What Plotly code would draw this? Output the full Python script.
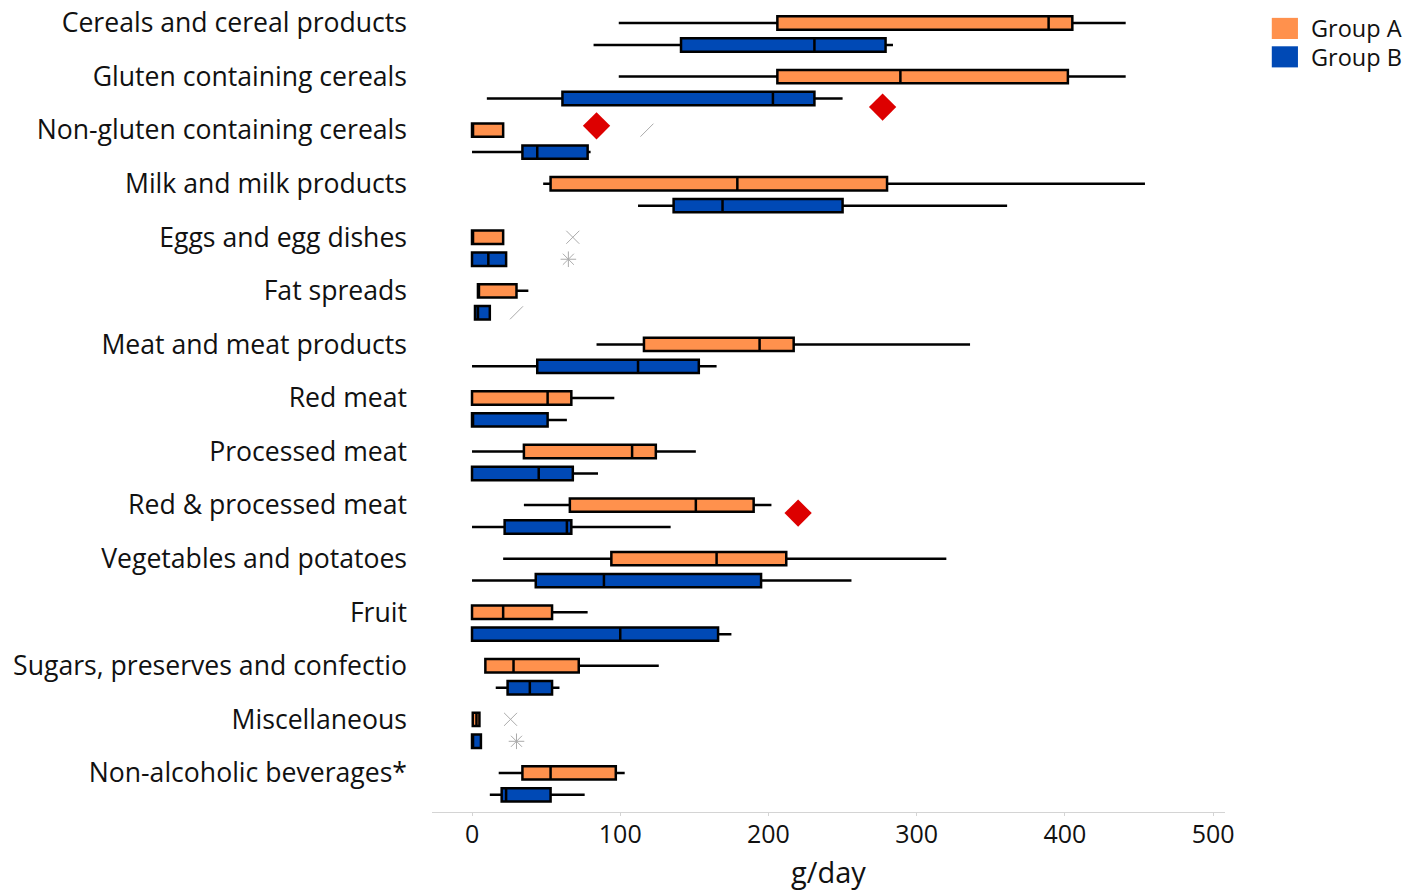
import plotly.graph_objects as go

# Food groups, listed top to bottom
categories = [
    "Cereals and cereal products",
    "Gluten containing cereals",
    "Non-gluten containing cereals",
    "Milk and milk products",
    "Eggs and egg dishes",
    "Fat spreads",
    "Meat and meat products",
    "Red meat",
    "Processed meat",
    "Red & processed meat",
    "Vegetables and potatoes",
    "Fruit",
    "Sugars, preserves and confectio",
    "Miscellaneous",
    "Non-alcoholic beverages*",
]

# Group A intake summaries (g/day)
a_low = [99, 99, 0, 48, 0, 4, 84, 0, 0, 35, 21, 0, 9, 0.5, 18]
a_q1 = [206, 206, 0, 53, 0, 4, 116, 0, 35, 66, 94, 0, 9, 0.5, 34]
a_med = [389, 289, 0, 179, 0, 4, 194, 51, 108, 151, 165, 21, 28, 3, 53]
a_q3 = [405, 402, 21, 280, 21, 30, 217, 67, 124, 190, 212, 54, 72, 5, 97]
a_high = [441, 441, 21, 454, 21, 38, 336, 96, 151, 202, 320, 78, 126, 5, 103]

# Group B intake summaries (g/day)
b_low = [82, 10, 0, 112, 0, 2, 0, 0, 0, 0, 0, 0, 16, 0, 12]
b_q1 = [141, 61, 34, 136, 0, 2, 44, 0, 0, 22, 43, 0, 24, 0, 20]
b_med = [231, 203, 44, 169, 11, 4, 112, 0, 45, 64, 89, 100, 39, 0, 23]
b_q3 = [279, 231, 78, 250, 23, 12, 153, 51, 68, 67, 195, 166, 54, 6, 53]
b_high = [284, 250, 80, 361, 23, 12, 165, 64, 85, 134, 256, 175, 59, 6, 76]

# Highlighted reference values (g/day) and their row positions
ref_x = [84, 277, 220]
ref_row = [1.92, 1.57, 9.15]

# Faint extreme-value glyphs: value, row position, symbol
ext_x = [118, 68, 65, 30, 26, 30]
ext_row = [2.0, 4.0, 4.41, 5.41, 13.0, 13.41]
ext_sym = ["line-ne-open", "x-thin-open", "asterisk-open", "line-ne-open", "x-thin-open", "asterisk-open"]

ORANGE = "#FF914D"
BLUE = "#0049B5"
OFFSET = 0.41

pos_a = [-i for i in range(len(categories))]
pos_b = [-i - OFFSET for i in range(len(categories))]

fig = go.Figure()

fig.add_trace(go.Box(
    name="Group A", orientation="h", y=pos_a,
    q1=a_q1, median=a_med, q3=a_q3, lowerfence=a_low, upperfence=a_high,
    fillcolor=ORANGE, line=dict(color="black", width=2.5),
    width=0.25, whiskerwidth=0, showlegend=False, boxpoints=False,
))
fig.add_trace(go.Box(
    name="Group B", orientation="h", y=pos_b,
    q1=b_q1, median=b_med, q3=b_q3, lowerfence=b_low, upperfence=b_high,
    fillcolor=BLUE, line=dict(color="black", width=2.5),
    width=0.25, whiskerwidth=0, showlegend=False, boxpoints=False,
))

fig.add_trace(go.Scatter(
    x=ref_x, y=[-r for r in ref_row], mode="markers",
    marker=dict(symbol="diamond", size=21, color="#DD0000", line=dict(width=0)),
    showlegend=False, hoverinfo="skip",
))

fig.add_trace(go.Scatter(
    x=ext_x, y=[-r for r in ext_row], mode="markers",
    marker=dict(symbol=ext_sym, size=13, color="#ababab",
                line=dict(color="#ababab", width=1)),
    showlegend=False, hoverinfo="skip",
))

# Legend swatches and labels
legend_items = [("Group A", ORANGE, 0.978, 0.952), ("Group B", BLUE, 0.943, 0.917)]
for label, color, y1, y0 in legend_items:
    fig.add_shape(type="rect", xref="paper", yref="paper",
                  x0=1.059, x1=1.092, y0=y0, y1=y1,
                  fillcolor=color, line=dict(width=0))
    fig.add_annotation(xref="paper", yref="paper", x=1.106, y=(y0 + y1) / 2,
                       text=label, showarrow=False, xanchor="left", yanchor="middle",
                       font=dict(size=23.5, color="#111111", family="Open Sans"))

fig.update_layout(
    width=1424, height=892,
    margin=dict(l=432, r=199, t=0, b=80),
    paper_bgcolor="white", plot_bgcolor="white",
    boxmode="overlay",
    font=dict(family="Open Sans", color="#111111"),
    xaxis=dict(
        range=[-27, 508], tickvals=[0, 100, 200, 300, 400, 500],
        showgrid=False, zeroline=False,
        showline=True, linecolor="#d4d4d4", linewidth=1,
        ticks="outside", ticklen=3, tickcolor="#d4d4d4",
        tickfont=dict(size=25, color="#111111"),
        ticklabelstandoff=-3,
        title=dict(text="g/day", font=dict(size=29, color="#111111"), standoff=13),
    ),
    yaxis=dict(
        range=[-14.73, 0.43], tickvals=pos_a, ticktext=categories,
        showgrid=False, zeroline=False, showline=False, ticks="",
        tickfont=dict(size=26.6, color="#111111"),
        ticklabelstandoff=24,
    ),
)

fig.write_html("out.html")
